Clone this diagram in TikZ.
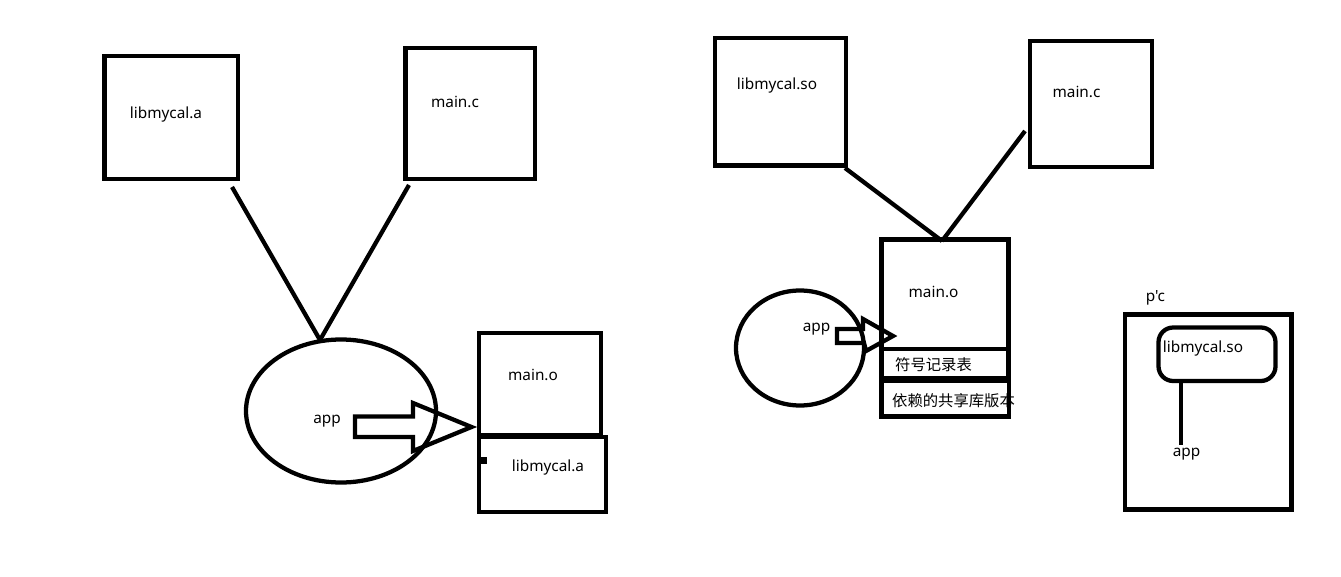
\documentclass[tikz,border=0pt]{standalone}
\usepackage{fontspec}
\setmainfont{Noto Sans}[Ligatures=TeXOff]
\newfontfamily\cjk{Noto Sans CJK SC}
\usetikzlibrary{shapes.geometric}
\newcommand{\pxu}{0.75pt}

\begin{document}
\begin{tikzpicture}[x=0.75pt, y=-0.75pt,
	box/.style={draw, line width=3.2pt, inner sep=0pt},
	txt/.style={font=\fontsize{11.5}{13}\selectfont, inner sep=0pt, text height=8.7pt, text depth=2.6pt},
	wire/.style={line width=3.2pt}]
			\fill[white] (0,0) rectangle (1341,577);
			\useasboundingbox (0,0) rectangle (1341,577);

			% static library: libmycal.a + main.c -> app
			\node[txt] (tLibA) at (166,114) {libmycal.a};
			\node[txt] (tMainC) at (455,103) {main.c};
			\node[txt] (tApp) at (327,419) {app};
			\node[txt] (tMainO) at (533,376) {main.o};
			\node[txt] (tLibA2) at (548,467) {libmycal.a};

			\node[box, minimum width=133.5*\pxu, minimum height=123*\pxu] (libA) at (171.25,117.5) {};
			\node[box, minimum width=129.5*\pxu, minimum height=131*\pxu] (mainC) at (470.25,113.5) {};
			\node[box, ellipse, minimum width=190*\pxu, minimum height=143*\pxu] (app) at (341,411) {};
			\node[box, minimum width=122*\pxu, minimum height=102*\pxu] (mainO) at (540,384) {};
			\node[box, minimum width=127*\pxu, minimum height=75*\pxu] (libA2) at (542.5,474.5) {};
			\fill (481,457) rectangle (487,464);

			\coordinate (libAend) at (232,187);
			\coordinate (mainCend) at (409,185);
			\coordinate (appTop) at (320,340);
			\draw[wire] (libAend) -- (appTop);
			\draw[wire] (mainCend) -- (appTop);

			\draw[wire, line join=miter] (355,416.5) -- (413,416.5) -- (413,403) -- (471.5,427)
				-- (413,451) -- (413,437) -- (355,437) -- cycle;

			% shared library: libmycal.so + main.c -> main.o
			\node[txt] (tLibSo) at (777,85) {libmycal.so};
			\node[txt] (tMainC2) at (1076.5,93) {main.c};
			\node[txt] (tMainO2) at (933.5,293) {main.o};
			\node[txt] (tApp2) at (816.5,327) {app};
			\node[txt] (tSym) at (933.5,366) {\cjk 符号记录表};
			\node[txt] (tDeps) at (953.5,402) {\cjk 依赖的共享库版本};

			\node[box, minimum width=131*\pxu, minimum height=127.5*\pxu] (libSo) at (780.5,101.75) {};
			\node[box, minimum width=122*\pxu, minimum height=126*\pxu] (mainC2) at (1091,104) {};
			\node[box, minimum width=127*\pxu, minimum height=109.5*\pxu] (mainO2) at (945,294.25) {};
			\node[box, minimum width=127*\pxu, minimum height=29*\pxu] (symTab) at (945,363.5) {};
			\node[box, minimum width=127.5*\pxu, minimum height=35.5*\pxu] (deps) at (945.25,398.75) {};
			\node[box, ellipse, minimum width=128*\pxu, minimum height=115*\pxu] (app2) at (800,348) {};

			\coordinate (libSoend) at (845,168);
			\coordinate (mainC2end) at (1025,131);
			\coordinate (mainO2top) at (942,241);
			\draw[wire] (libSoend) -- (mainO2top);
			\draw[wire] (mainC2end) -- (mainO2top);

			\draw[wire, line join=miter] (837,329) -- (863,329) -- (863,319) -- (893,336)
				-- (866,351) -- (864,343) -- (837,343) -- cycle;

			% p'c
			\node[txt] (tPc) at (1155.5,297) {p'c};
			\node[txt] (tLibSo2) at (1203,348) {libmycal.so};
			\node[txt] (tApp3) at (1186.5,452) {app};
			\node[box, minimum width=166.5*\pxu, minimum height=195*\pxu] (pc) at (1208.25,412) {};
			\node[box, rounded corners=11pt, minimum width=117*\pxu, minimum height=53.5*\pxu] (libSo2) at (1217,354.25) {};
			\coordinate (app3top) at (1181,445);
			\draw[wire] (libSo2.south -| app3top) -- (app3top);
		\end{tikzpicture}
\end{document}
